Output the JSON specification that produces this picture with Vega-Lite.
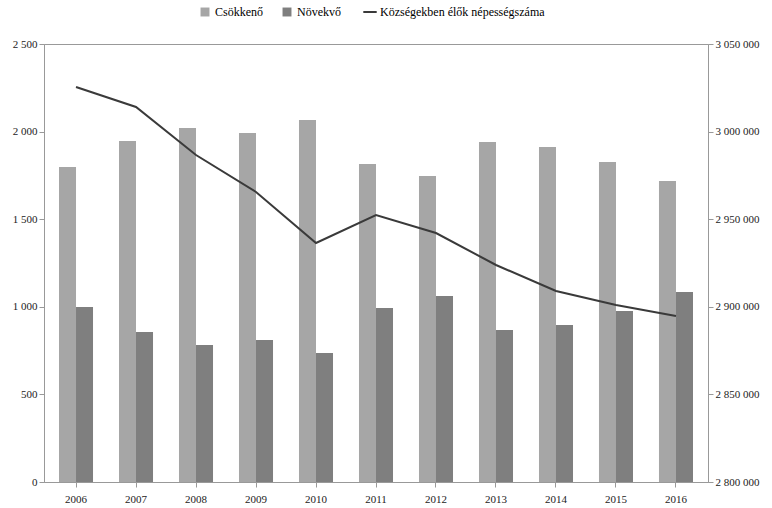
{
"$schema":"https://vega.github.io/schema/vega-lite/v6.json",
"width":664,"height":438,
"autosize":{"type":"none"},
"padding":{"left":44,"top":44,"right":64,"bottom":26},
"config":{"font":"Liberation Serif","view":{"stroke":"#999"},"axis":{"labelFontSize":11,"labelColor":"#222","domainColor":"#999","tickColor":"#999","grid":false,"title":null}},
"data":{"values":[
{"ev":"2006","cs":1798,"nv":999,"pop":3025457},
{"ev":"2007","cs":1946,"nv":856,"pop":3014041},
{"ev":"2008","cs":2020,"nv":782,"pop":2986644},
{"ev":"2009","cs":1992,"nv":810,"pop":2965525},
{"ev":"2010","cs":2066,"nv":736,"pop":2936416},
{"ev":"2011","cs":1815,"nv":993,"pop":2952397},
{"ev":"2012","cs":1747,"nv":1062,"pop":2942123},
{"ev":"2013","cs":1941,"nv":868,"pop":2923858},
{"ev":"2014","cs":1912,"nv":896,"pop":2909018},
{"ev":"2015","cs":1826,"nv":976,"pop":2901027},
{"ev":"2016","cs":1718,"nv":1084,"pop":2894749}]},
"encoding":{"x":{"field":"ev","type":"nominal","scale":{"paddingInner":0.433,"paddingOuter":0.25},"axis":{"labelAngle":0,"labelPadding":6}}},
"layer":[
{"transform":[{"fold":["cs","nv"],"as":["k","v"]},{"calculate":"datum.k=='cs'?'Csökkenő':'Növekvő'","as":"sor"}],
"mark":{"type":"bar"},
"encoding":{"xOffset":{"field":"sor","sort":["Csökkenő","Növekvő"]},
"y":{"field":"v","type":"quantitative","scale":{"domain":[0,2500]},"axis":{"values":[0,500,1000,1500,2000,2500],"labelExpr":"replace(format(datum.value,','),/,/g,' ')"}},
"color":{"field":"sor","type":"nominal","scale":{"domain":["Csökkenő","Növekvő","Községekben élők népességszáma"],"range":["#a6a6a6","#7f7f7f","#3a3a3a"]},
"legend":{"orient":"none","legendX":155,"legendY":-38,"direction":"horizontal","title":null,"labelFontSize":12,"labelLimit":300,"columnPadding":18,"symbolType":"square","symbolSize":80,"symbolStrokeWidth":0,
"encode":{"symbols":{"update":{"shape":{"signal":"datum.value=='Községekben élők népességszáma'?'M-1,0H1':'square'"},"strokeWidth":{"signal":"datum.value=='Községekben élők népességszáma'?2:0"},"stroke":{"signal":"datum.value=='Községekben élők népességszáma'?'#3a3a3a':null"},"size":{"signal":"datum.value=='Községekben élők népességszáma'?180:80"}}}}}}}},
{"transform":[{"calculate":"'Községekben élők népességszáma'","as":"sor"}],
"mark":{"type":"line","strokeWidth":2,"color":"#3a3a3a"},
"encoding":{"y":{"field":"pop","type":"quantitative","scale":{"domain":[2800000,3050000]},"axis":{"orient":"right","values":[2800000,2850000,2900000,2950000,3000000,3050000],"labelExpr":"replace(format(datum.value,','),/,/g,' ')"}}}}
],
"resolve":{"scale":{"y":"independent"}}
}
